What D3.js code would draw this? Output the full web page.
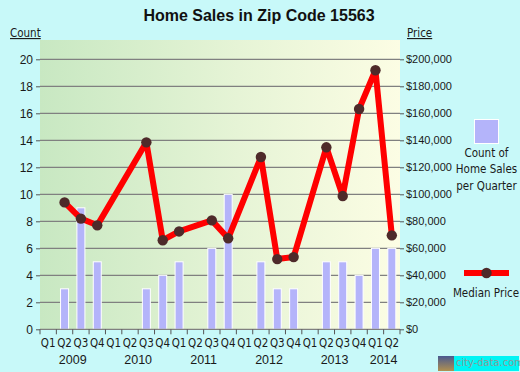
<!DOCTYPE html>
<html><head><meta charset="utf-8">
<script src="https://cdn.jsdelivr.net/npm/d3@7"></script>
<style>html,body{margin:0;padding:0;background:#c8f9f9;}svg{display:block;font-family:"Liberation Sans",Arial,sans-serif;}</style>
</head><body>
<svg id="c" width="520" height="372"></svg>
<script>
const years = ["2009","2010","2011","2012","2013","2014"];
const quarters = ["Q1","Q2","Q3","Q4","Q1","Q2","Q3","Q4","Q1","Q2","Q3","Q4","Q1","Q2","Q3","Q4","Q1","Q2","Q3","Q4","Q1","Q2"];
const salesCount = [0,3,9,5, 0,0,3,4, 5,0,6,10, 0,5,3,3, 0,5,5,4, 6,6];
const medianPrice = [null,94000,82000,77000, null,null,138500,66000, 72500,null,80700,67400, null,127600,52000,53500, null,134800,98700,163200, 191900,69600];
const countTicks = [0,2,4,6,8,10,12,14,16,18,20];
const priceTicks = [0,20000,40000,60000,80000,100000,120000,140000,160000,180000,200000];

const FONT = "'Liberation Sans',Arial,sans-serif";
const NARROW = "'Liberation Sans Narrow','DejaVu Sans Condensed',sans-serif";
const svg = d3.select("#c");
const L = 40, R = 400, T = 40, B = 329.3;
const idx = d3.range(quarters.length);
const x = d3.scaleBand().domain(idx).range([L, R]).paddingInner(0).paddingOuter(0);
const yC = d3.scaleLinear().domain([0, 20]).range([B, 59.3]);
const yP = d3.scaleLinear().domain([0, 200000]).range([B, 59.3]);

const defs = svg.append("defs");
const g = defs.append("linearGradient").attr("id","bg").attr("x1","0").attr("x2","1").attr("y1","0").attr("y2","0");
g.append("stop").attr("offset","0").attr("stop-color","#c8e8c2");
g.append("stop").attr("offset","0.55").attr("stop-color","#e6f4d6");
g.append("stop").attr("offset","1").attr("stop-color","#fcfde4");

svg.append("rect").attr("x",L).attr("y",T).attr("width",R-L).attr("height",B-T).attr("fill","url(#bg)");

// gridlines
svg.append("g").selectAll("line").data(countTicks.filter(d=>d>0)).join("line")
  .attr("x1",L).attr("x2",R).attr("y1",d=>yC(d)).attr("y2",d=>yC(d))
  .attr("stroke","#808080").attr("stroke-width",1.3);

// left axis
const la = svg.append("g").attr("transform",`translate(${L},0)`)
  .call(d3.axisLeft(yC).tickValues(countTicks).tickSize(4).tickPadding(3));
la.select(".domain").remove();
la.selectAll("line").attr("stroke","#555");
la.selectAll("text").attr("font-size",12).attr("fill","#1a1a1a").attr("font-family",FONT);

// right axis
const ra = svg.append("g").attr("transform",`translate(${R},0)`)
  .call(d3.axisRight(yP).tickValues(priceTicks).tickSize(4).tickPadding(2).tickFormat(d=>"$"+d3.format(",")(d)));
ra.select(".domain").remove();
ra.selectAll("line").attr("stroke","#555");
ra.selectAll("text").attr("font-size",11).attr("fill","#1a1a1a").attr("font-family",FONT);

// bars
const bw = 8;
svg.append("g").selectAll("rect").data(idx.filter(i=>salesCount[i]>0)).join("rect")
  .attr("x",i=>x(i)+x.bandwidth()/2-bw/2).attr("width",bw)
  .attr("y",i=>yC(salesCount[i])).attr("height",i=>B-yC(salesCount[i]))
  .attr("fill","#b4b4fa").attr("stroke","#ffffff").attr("stroke-width",1);

// bottom axis line
svg.append("line").attr("x1",L).attr("x2",R).attr("y1",B).attr("y2",B).attr("stroke","#808080").attr("stroke-width",1.3);
// quarter ticks
svg.append("g").selectAll("line").data(d3.range(quarters.length+1)).join("line")
  .attr("x1",i=>L+i*x.bandwidth()).attr("x2",i=>L+i*x.bandwidth())
  .attr("y1",B).attr("y2",B+5).attr("stroke","#555").attr("stroke-width",1);
// quarter labels
svg.append("g").selectAll("text").data(idx).join("text")
  .attr("x",i=>x(i)+x.bandwidth()/2).attr("y",347).attr("text-anchor","middle")
  .attr("font-size",11.5).attr("fill","#1a1a1a").attr("font-family",NARROW)
  .text(i=>quarters[i]);
// year labels
svg.append("g").selectAll("text").data(years).join("text")
  .attr("x",(d,k)=>{const a=k*4, b=Math.min(k*4+4, quarters.length); return (L+a*x.bandwidth()+L+b*x.bandwidth())/2;})
  .attr("y",364).attr("text-anchor","middle").attr("font-size",12.5).attr("fill","#1a1a1a")
  .text(d=>d);

// price line
const pts = idx.filter(i=>medianPrice[i]!=null);
const line = d3.line().x(i=>x(i)+x.bandwidth()/2).y(i=>yP(medianPrice[i]));
svg.append("path").datum(pts).attr("d",line).attr("fill","none")
  .attr("stroke","#ff0000").attr("stroke-width",6).attr("stroke-linejoin","round");
svg.append("g").selectAll("circle").data(pts).join("circle")
  .attr("cx",i=>x(i)+x.bandwidth()/2).attr("cy",i=>yP(medianPrice[i])).attr("r",5.2)
  .attr("fill","#4e2a2a");

// title
svg.append("text").attr("x",259).attr("y",21).attr("text-anchor","middle")
  .attr("font-size",16).attr("font-weight","bold").attr("fill","#111")
  .text("Home Sales in Zip Code 15563");

// axis titles
svg.append("text").attr("x",10).attr("y",37).attr("font-size",11.5).attr("fill","#1a1a1a").attr("font-family",NARROW)
  .attr("text-decoration","underline").text("Count");
svg.append("text").attr("x",407).attr("y",37).attr("font-size",11.5).attr("fill","#1a1a1a").attr("font-family",NARROW)
  .attr("text-decoration","underline").text("Price");

// legend
svg.append("rect").attr("x",474.5).attr("y",119.5).attr("width",24).attr("height",24)
  .attr("fill","#b4b4fa").attr("stroke","#fff").attr("stroke-width",1);
["Count of","Home Sales","per Quarter"].forEach((t,k)=>{
  svg.append("text").attr("x",486.5).attr("y",157+k*16.3).attr("text-anchor","middle")
    .attr("font-size",11.5).attr("fill","#1a1a1a").attr("font-family",NARROW).text(t);
});
svg.append("line").attr("x1",464).attr("x2",509).attr("y1",273).attr("y2",273)
  .attr("stroke","#ff0000").attr("stroke-width",6);
svg.append("circle").attr("cx",486.5).attr("cy",273).attr("r",5.2).attr("fill","#4e2a2a");
svg.append("text").attr("x",486).attr("y",297).attr("text-anchor","middle")
  .attr("font-size",11.5).attr("fill","#1a1a1a").attr("font-family",NARROW).text("Median Price");

// watermark
const ig = defs.append("linearGradient").attr("id","ic").attr("x1","0").attr("x2","0").attr("y1","0").attr("y2","1");
ig.append("stop").attr("offset","0").attr("stop-color","#4a5a90");
ig.append("stop").attr("offset","1").attr("stop-color","#b09050");
svg.append("rect").attr("x",438).attr("y",356).attr("width",16).attr("height",15).attr("fill","url(#ic)");
svg.append("rect").attr("x",454).attr("y",356).attr("width",65).attr("height",15).attr("fill","#00f4f4");
svg.append("text").attr("x",456).attr("y",366).attr("font-size",11).attr("fill","#8a9a9a").attr("font-family",NARROW)
  .text("city-data.com");
</script>
</body></html>
